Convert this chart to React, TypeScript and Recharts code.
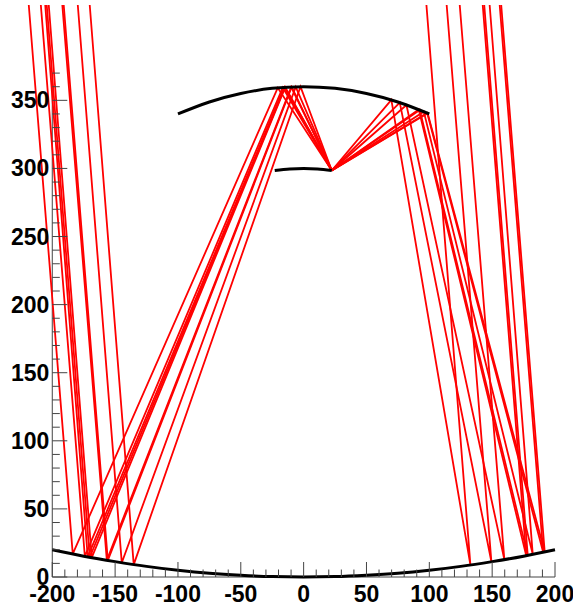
import { LineChart, Line, XAxis, YAxis, ReferenceLine } from 'recharts';

// tick positions, minor every 10, labelled every 50
const xTicks = [
  -200, -190, -180, -170, -160, -150, -140, -130, -120, -110, -100, -90, -80, -70, -60, -50, -40, -30, -20, -10, 0,
  10, 20, 30, 40, 50, 60, 70, 80, 90, 100, 110, 120, 130, 140, 150, 160, 170, 180, 190, 200,
];
const yTicks = [
  0, 10, 20, 30, 40, 50, 60, 70, 80, 90, 100, 110, 120, 130, 140, 150, 160, 170, 180, 190, 200, 210, 220, 230, 240,
  250, 260, 270, 280, 290, 300, 310, 320, 330, 340, 350, 360, 370,
];

// mirrors
const primaryMirrorX = [-200, -175, -150, -125, -100, -75, -50, -25, 0, 25, 50, 75, 100, 125, 150, 175, 200];
const primaryMirrorY = [20, 15.3, 11.3, 7.8, 5, 2.8, 1.3, 0.3, 0, 0.3, 1.3, 2.8, 5, 7.8, 11.3, 15.3, 20];
const secondaryMirrorX = [-100, -75, -50, -25, 0, 25, 50, 75, 100];
const secondaryMirrorY = [340, 348.8, 355, 358.8, 360, 358.8, 355, 348.8, 340];
const tertiaryMirrorX = [-23, -11, 0, 11, 22.4];
const tertiaryMirrorY = [298.4, 299.6, 300, 299.6, 298.4];

// rays: enter at the top, hit primary, then secondary, end at the tertiary spot
const entryY = 420;
const spotX = 22.4;
const spotY = 298.5;

const leftEntryX = [-218.7, -209.1, -205.6, -204.4, -202.8, -192, -190.9, -179.7, -170.2];
const leftPrimaryX = [-183.7, -174.1, -171.8, -170.2, -168.6, -156.6, -155.8, -144.7, -135.2];
const leftPrimaryY = [16.9, 15.2, 14.8, 14.5, 14.2, 12.3, 12.1, 10.5, 9.1];
const leftSecondaryX = [-20.6, -16.6, -15.4, -15, -14.6, -9.9, -9.5, -6.3, -2.5];
const leftSecondaryY = [359.2, 359.4, 359.5, 359.5, 359.6, 359.8, 359.8, 359.9, 360];

const rightEntryX = [97.7, 113.8, 124.2, 142.5, 143.7, 148, 156, 157.2];
const rightPrimaryX = [132.7, 149.4, 159.7, 177.1, 178.3, 182.3, 190.6, 191.8];
const rightPrimaryY = [8.8, 11.2, 12.8, 15.7, 15.9, 16.6, 18.2, 18.4];
const rightSecondaryX = [69.8, 76.5, 81.8, 91.6, 92.4, 95.6, 98.3, 98.7];
const rightSecondaryY = [350.3, 348.3, 346.6, 343.2, 342.9, 341.7, 340.7, 340.5];

const toPoints = (xs: number[], ys: number[]) => xs.map((x, i) => ({ x, y: ys[i] }));

const buildRays = (entry: number[], px: number[], py: number[], sx: number[], sy: number[]) =>
  entry.map((x, i) => [
    { x, y: entryY },
    { x: px[i], y: py[i] },
    { x: sx[i], y: sy[i] },
    { x: spotX, y: spotY },
  ]);

const rays = [
  ...buildRays(leftEntryX, leftPrimaryX, leftPrimaryY, leftSecondaryX, leftSecondaryY),
  ...buildRays(rightEntryX, rightPrimaryX, rightPrimaryY, rightSecondaryX, rightSecondaryY),
];

const mirrors = [
  toPoints(primaryMirrorX, primaryMirrorY),
  toPoints(secondaryMirrorX, secondaryMirrorY),
  toPoints(tertiaryMirrorX, tertiaryMirrorY),
];

const AXIS_COLOR = '#444';
const LABEL_FONT = '"Liberation Sans", Arial, sans-serif';
// x axis starts left of -200 so the rays can run past the frame, y ticks sit at -200
const Y_AXIS_SHIFT = 50.3;

const XTick = ({ x, y, payload }: any) => {
  const major = payload.value % 50 === 0;
  return (
    <g>
      <line x1={x} x2={x} y1={y} y2={y - (major ? 15 : 7.5)} stroke={AXIS_COLOR} strokeWidth={1} />
      {major && (
        <text x={x} y={y + 25} textAnchor="middle" fontFamily={LABEL_FONT} fontWeight="bold" fontSize={23} fill="#000">
          {payload.value}
        </text>
      )}
    </g>
  );
};

const YTick = ({ x, y, payload }: any) => {
  const major = payload.value % 50 === 0;
  const x0 = x + Y_AXIS_SHIFT;
  return (
    <g>
      <line x1={x0} x2={x0 + (major ? 15 : 7.5)} y1={y} y2={y} stroke={AXIS_COLOR} strokeWidth={1} />
      {major && (
        <text x={x0 - 3} y={y + 8} textAnchor="end" fontFamily={LABEL_FONT} fontWeight="bold" fontSize={23} fill="#000">
          {payload.value}
        </text>
      )}
    </g>
  );
};

export default function App() {
  return (
    <div style={{ position: 'absolute', left: 0, top: 0 }}>
      <LineChart width={573} height={606} margin={{ top: 5, right: 18, bottom: 0, left: 0 }}>
        <XAxis
          dataKey="x"
          type="number"
          domain={[-240, 200]}
          ticks={xTicks}
          interval={0}
          axisLine={false}
          tickLine={false}
          tickSize={0}
          tickMargin={0}
          tick={XTick}
          height={29}
          allowDuplicatedCategory={false}
        />
        <YAxis
          dataKey="y"
          type="number"
          domain={[0, 420]}
          ticks={yTicks}
          interval={0}
          axisLine={false}
          tickLine={false}
          tickSize={0}
          tickMargin={0}
          tick={YTick}
          width={2}
        />
        <ReferenceLine segment={[{ x: -200, y: 0 }, { x: 200, y: 0 }]} stroke={AXIS_COLOR} strokeWidth={1} />
        <ReferenceLine segment={[{ x: -200, y: 0 }, { x: -200, y: 370 }]} stroke={AXIS_COLOR} strokeWidth={1} />
        {rays.map((ray, i) => (
          <Line
            key={`ray-${i}`}
            data={ray}
            dataKey="y"
            type="linear"
            stroke="#ff0000"
            strokeWidth={1.8}
            dot={false}
            activeDot={false}
            isAnimationActive={false}
          />
        ))}
        {mirrors.map((mirror, i) => (
          <Line
            key={`mirror-${i}`}
            data={mirror}
            dataKey="y"
            type="monotone"
            stroke="#000"
            strokeWidth={3}
            dot={false}
            activeDot={false}
            isAnimationActive={false}
          />
        ))}
      </LineChart>
    </div>
  );
}
